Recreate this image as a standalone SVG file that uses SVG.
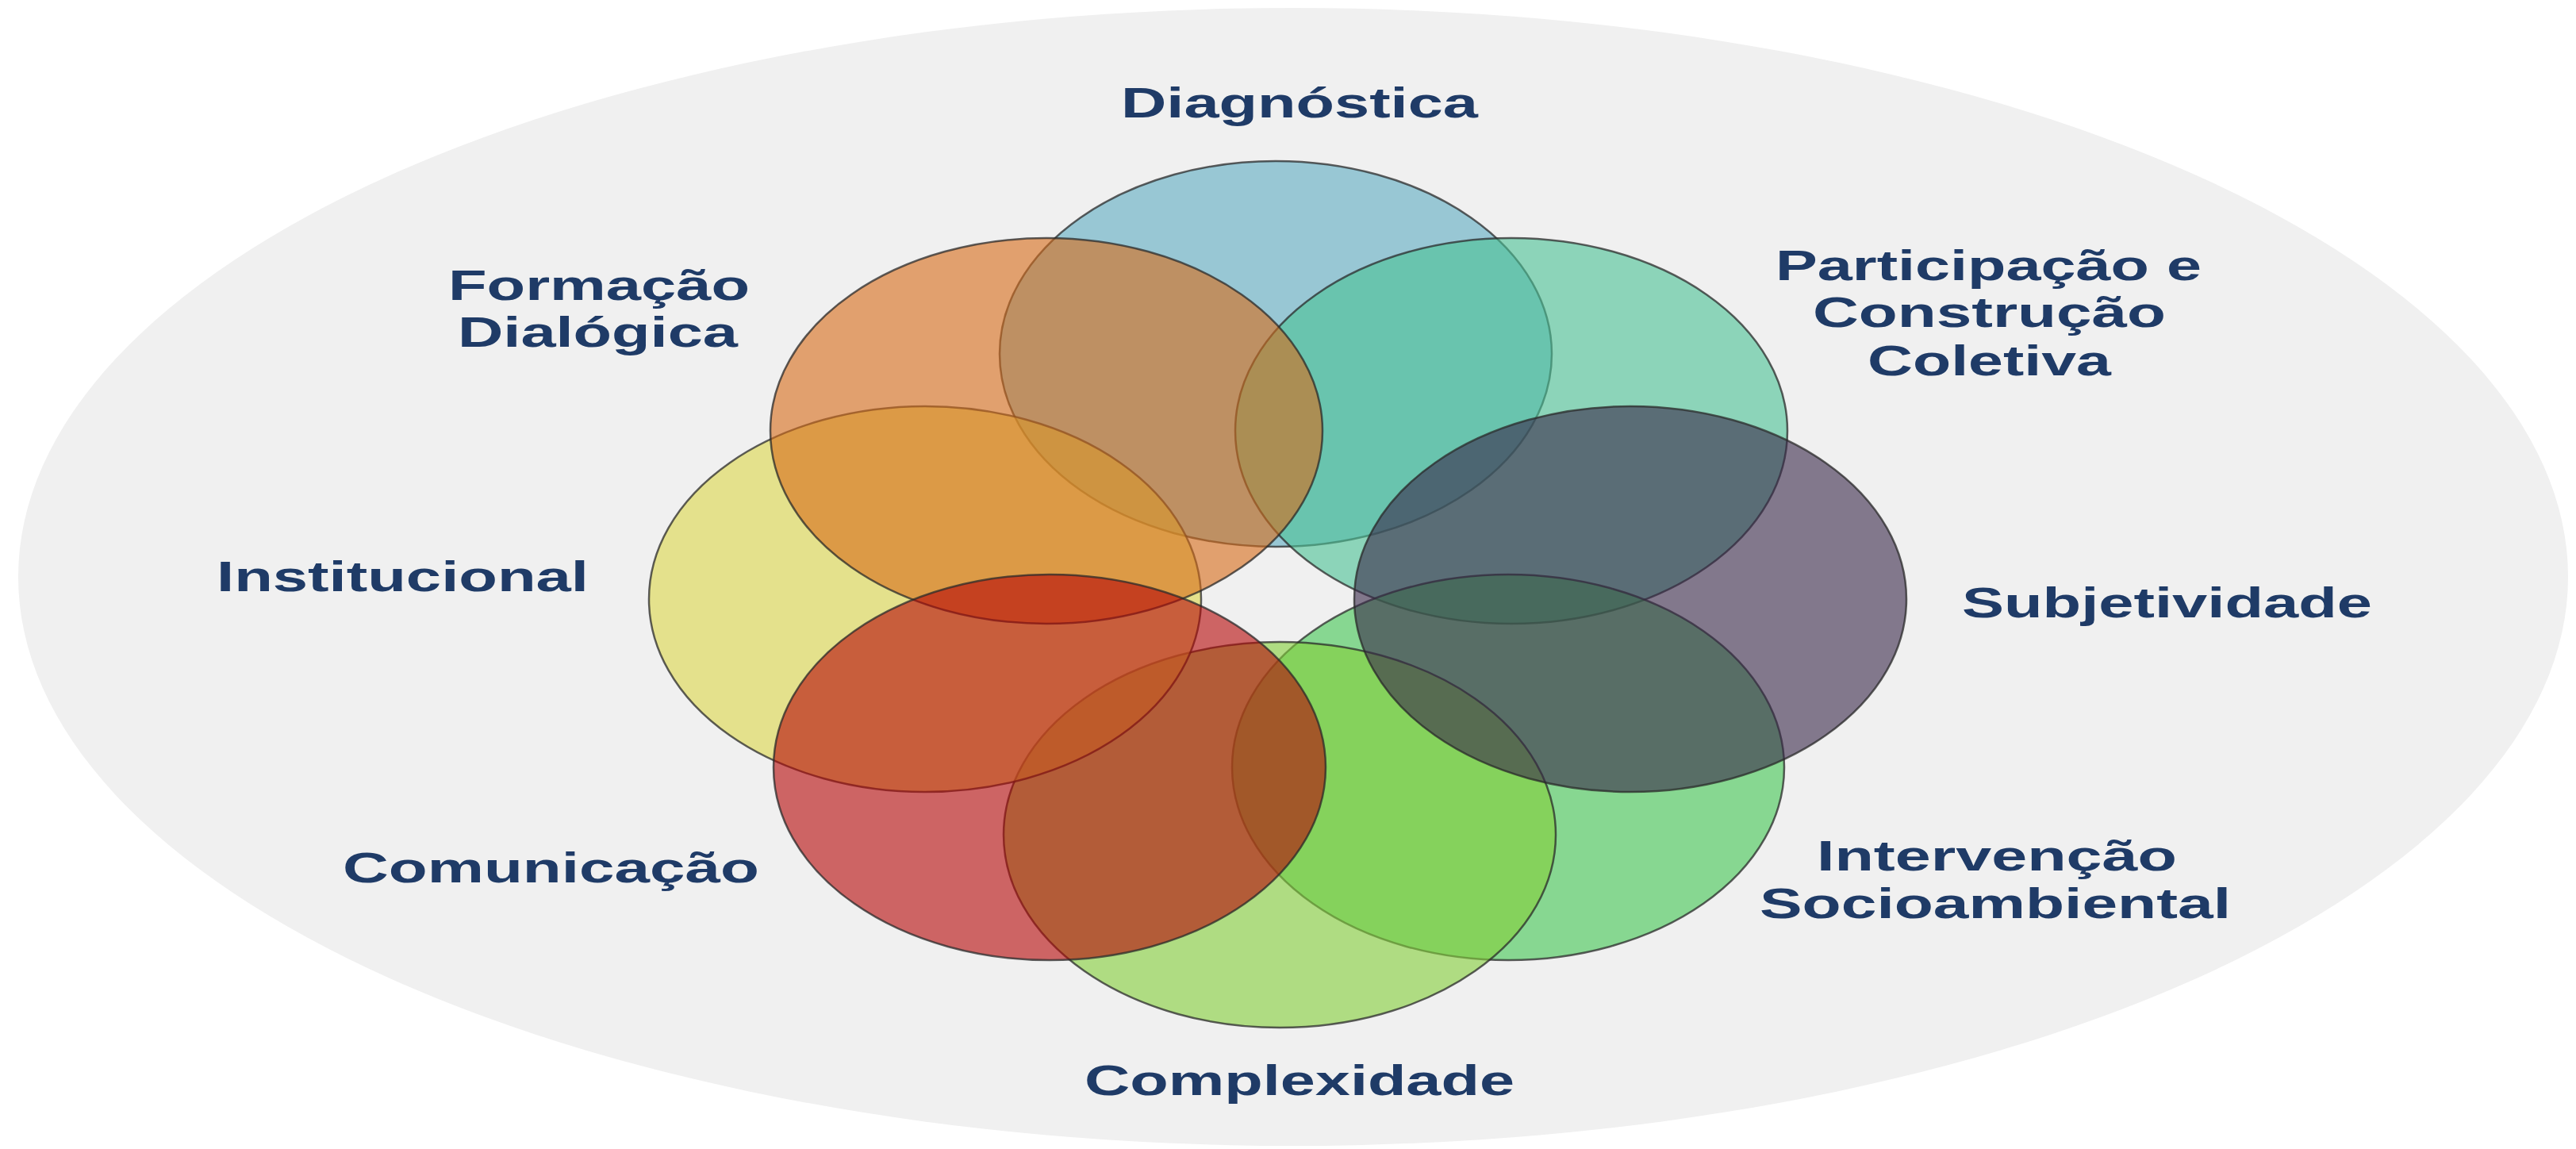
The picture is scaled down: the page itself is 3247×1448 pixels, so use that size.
<svg xmlns="http://www.w3.org/2000/svg" width="3247" height="1448" viewBox="0 0 3247 1448">
<style>
.c{fill-opacity:0.6;stroke:#2a2a2a;stroke-opacity:0.75;stroke-width:2.5}
.t{font-family:"Liberation Sans",Arial,sans-serif;font-weight:bold;font-size:54px;fill:#1f3b67}
</style>
<rect width="3247" height="1448" fill="#ffffff"/>
<ellipse id="background" cx="1630" cy="727" rx="1607" ry="717" fill="#f0f0f0"/>
<g id="circles">
<g id="diagnostica"><ellipse class="c" cx="1608" cy="446" rx="348" ry="243" fill="#5eabc2"/></g>
<g id="participacao"><ellipse class="c" cx="1905" cy="543" rx="348" ry="243" fill="#49c194"/></g>
<g id="intervencao"><ellipse class="c" cx="1901" cy="967" rx="348" ry="243" fill="#41c752"/></g>
<g id="complexidade"><ellipse class="c" cx="1613" cy="1052" rx="348" ry="243" fill="#84cf39"/></g>
<g id="subjetividade"><ellipse class="c" cx="2055" cy="755" rx="348" ry="243" fill="#392849"/></g>
<g id="institucional"><ellipse class="c" cx="1166" cy="755" rx="348" ry="243" fill="#dcd749"/></g>
<g id="formacao"><ellipse class="c" cx="1319" cy="543" rx="348" ry="243" fill="#d76b17"/></g>
<g id="comunicacao"><ellipse class="c" cx="1323" cy="967" rx="348" ry="243" fill="#b60707"/></g>
</g>
<g id="labels">
<text class="t" x="1413" y="148" textLength="450" lengthAdjust="spacingAndGlyphs">Diagnóstica</text>
<text class="t" x="565" y="378" textLength="380" lengthAdjust="spacingAndGlyphs">Formação</text>
<text class="t" x="577" y="437" textLength="353" lengthAdjust="spacingAndGlyphs">Dialógica</text>
<text class="t" x="2238" y="353" textLength="537" lengthAdjust="spacingAndGlyphs">Participação e</text>
<text class="t" x="2285" y="412" textLength="445" lengthAdjust="spacingAndGlyphs">Construção</text>
<text class="t" x="2354" y="473" textLength="307" lengthAdjust="spacingAndGlyphs">Coletiva</text>
<text class="t" x="273" y="745" textLength="469" lengthAdjust="spacingAndGlyphs">Institucional</text>
<text class="t" x="2473" y="778" textLength="517" lengthAdjust="spacingAndGlyphs">Subjetividade</text>
<text class="t" x="432" y="1112" textLength="525" lengthAdjust="spacingAndGlyphs">Comunicação</text>
<text class="t" x="2290" y="1097" textLength="454" lengthAdjust="spacingAndGlyphs">Intervenção</text>
<text class="t" x="2218" y="1157" textLength="594" lengthAdjust="spacingAndGlyphs">Socioambiental</text>
<text class="t" x="1367" y="1380" textLength="542" lengthAdjust="spacingAndGlyphs">Complexidade</text>
</g>
</svg>
